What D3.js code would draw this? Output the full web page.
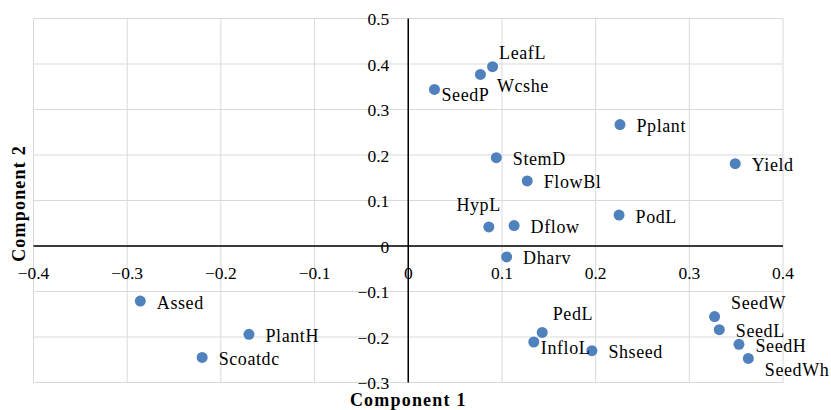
<!DOCTYPE html>
<html>
<head>
<meta charset="utf-8">
<script src="https://cdn.jsdelivr.net/npm/d3@7"></script>
<style>
  body { margin: 0; background: #fff; }
  svg text { font-family: "Palatino Linotype", "Book Antiqua", Palatino, "Liberation Serif", serif; }
</style>
</head>
<body>
<div id="chart"></div>
<script>
const width = 831
const height = 410
const margin = { top: 18.5, right: 48, bottom: 27.5, left: 33.5 }

// loadings
const traits = ["LeafL", "Wcshe", "SeedP", "Pplant", "StemD", "FlowBl", "Yield", "HypL", "Dflow", "PodL", "Dharv",
  "Assed", "PlantH", "Scoatdc", "PedL", "InfloL", "Shseed", "SeedW", "SeedL", "SeedH", "SeedWh"]
const comp1 = [0.090, 0.077, 0.028, 0.226, 0.094, 0.127, 0.349, 0.086, 0.113, 0.225, 0.105,
  -0.286, -0.170, -0.220, 0.143, 0.134, 0.196, 0.327, 0.332, 0.353, 0.363]
const comp2 = [0.394, 0.377, 0.344, 0.267, 0.194, 0.143, 0.181, 0.042, 0.045, 0.068, -0.024,
  -0.121, -0.194, -0.245, -0.190, -0.211, -0.230, -0.155, -0.184, -0.216, -0.247]
// where the label sits next to its point
const labelSide = ["aboveRight", "below", "belowNear", "right", "right", "right", "right", "aboveLeft", "right", "right", "right",
  "right", "right", "right", "aboveNear", "belowNear", "right", "aboveRight2", "right", "right", "below"]

const xTicks = [-0.4, -0.3, -0.2, -0.1, 0, 0.1, 0.2, 0.3, 0.4]
const yTicks = [-0.3, -0.2, -0.1, 0, 0.1, 0.2, 0.3, 0.4, 0.5]
const xTitle = "Component 1"
const yTitle = "Component 2"

const offsets = {
  right:       { dx: 16.5, dy: 7.5, anchor: "start" },
  aboveRight:  { dx: 6.5, dy: -7.5, anchor: "start" },
  aboveRight2: { dx: 16.5, dy: -7.5, anchor: "start" },
  aboveNear:   { dx: 10.5, dy: -12, anchor: "start" },
  aboveLeft:   { dx: 12, dy: -16, anchor: "end" },
  below:       { dx: 16.5, dy: 17.5, anchor: "start" },
  belowNear:   { dx: 7, dy: 12, anchor: "start" }
}

const points = traits.map((t, i) => ({ name: t, x: comp1[i], y: comp2[i], side: labelSide[i] }))

const svg = d3.select("#chart").append("svg").attr("width", width).attr("height", height)

const x = d3.scaleLinear().domain([-0.4, 0.4]).range([margin.left, width - margin.right])
const y = d3.scaleLinear().domain([-0.3, 0.5]).range([height - margin.bottom, margin.top])

const fmt = d => d === 0 ? "0" : d3.format(".1f")(d)

// grid
const grid = svg.append("g").attr("stroke", "#d9d9d9").attr("stroke-width", 1)
grid.selectAll("line.v").data(xTicks).join("line").attr("class", "v")
  .attr("x1", d => x(d)).attr("x2", d => x(d))
  .attr("y1", y(0.5)).attr("y2", y(-0.3))
grid.selectAll("line.h").data(yTicks).join("line").attr("class", "h")
  .attr("x1", x(-0.4)).attr("x2", x(0.4))
  .attr("y1", d => y(d)).attr("y2", d => y(d))

// tick labels
svg.append("g").selectAll("text").data(xTicks).join("text")
  .attr("x", d => x(d)).attr("y", y(0) + 32.5)
  .attr("text-anchor", "middle").attr("font-size", 17.5).attr("fill", "#000")
  .text(fmt)
svg.append("g").selectAll("text").data(yTicks).join("text")
  .attr("x", x(0) - 19).attr("y", d => y(d) + 6.5)
  .attr("text-anchor", "end").attr("font-size", 17.5).attr("fill", "#000")
  .text(fmt)

// axes through zero
svg.append("line").attr("x1", x(-0.4)).attr("x2", x(0.4)).attr("y1", y(0)).attr("y2", y(0))
  .attr("stroke", "#000").attr("stroke-width", 1.5)
svg.append("line").attr("x1", x(0)).attr("x2", x(0)).attr("y1", y(0.5)).attr("y2", y(-0.3))
  .attr("stroke", "#000").attr("stroke-width", 1.5)

// points
svg.append("g").selectAll("circle").data(points).join("circle")
  .attr("cx", d => x(d.x)).attr("cy", d => y(d.y)).attr("r", 5.5)
  .attr("fill", "#4f81bd")

svg.append("g").selectAll("text").data(points).join("text")
  .attr("x", d => x(d.x) + offsets[d.side].dx)
  .attr("y", d => y(d.y) + offsets[d.side].dy)
  .attr("text-anchor", d => offsets[d.side].anchor)
  .attr("font-size", 18).attr("letter-spacing", 0.6).attr("fill", "#000")
  .text(d => d.name)

// axis titles
svg.append("text").attr("x", x(0)).attr("y", 406)
  .attr("text-anchor", "middle").attr("font-size", 18).attr("font-weight", "bold")
  .attr("letter-spacing", 1.2)
  .text(xTitle)
svg.append("text").attr("transform", `translate(25,${y(0.1) + 3}) rotate(-90)`)
  .attr("text-anchor", "middle").attr("font-size", 18).attr("font-weight", "bold")
  .attr("letter-spacing", 1.2)
  .text(yTitle)
</script>
</body>
</html>
